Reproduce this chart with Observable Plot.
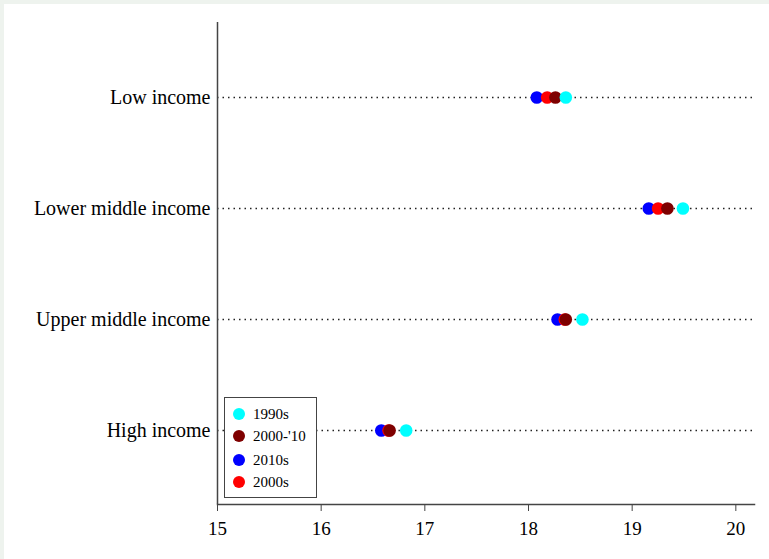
<!DOCTYPE html>
<html><head><meta charset="utf-8">
<script src="https://cdn.jsdelivr.net/npm/d3@7"></script>
<script src="https://cdn.jsdelivr.net/npm/@observablehq/plot@0.6"></script>
<style>
body{margin:0;background:#eef3ee;width:769px;height:559px;overflow:hidden;position:relative;font-family:"Liberation Serif",serif}
#panel{position:absolute;left:4px;top:4px;right:0;bottom:0;background:#fff}
#chart{position:absolute;left:0;top:0}
#legend{position:absolute;left:224px;top:397px;width:93px;height:101px;border:1px solid #444;box-sizing:border-box;background:#fff;font-size:15px;color:#000}
#legend .row{position:absolute;left:0;height:20px;line-height:20px;white-space:nowrap}
#legend .sw{position:absolute;left:8px;top:4px;width:12px;height:12px;border-radius:50%}
#legend .lb{position:absolute;left:28px;top:0}
</style></head>
<body>
<div id="panel"></div>
<div id="chart"></div>
<div id="legend"></div>
<script>
// Categories (top to bottom)
const groups = ["Low income", "Lower middle income", "Upper middle income", "High income"];
// Series values, one per group
const v1990s  = [18.36, 19.49, 18.52, 16.82];
const v200010 = [18.26, 19.34, 18.36, 16.66];
const v2010s  = [18.08, 19.16, 18.28, 16.58];
const v2000s  = [18.18, 19.25, 18.35, 16.65];
// Series names (legend order) and colours
const seriesNames = ["1990s", "2000-'10", "2010s", "2000s"];
const seriesColors = ["#00ffff", "#7f0000", "#0000ff", "#ff0000"];
// Draw order (back to front)
const drawOrder = ["2010s", "2000s", "2000-'10", "1990s"];
const xTicks = [15, 16, 17, 18, 19, 20];

const valuesBySeries = {"1990s": v1990s, "2000-'10": v200010, "2010s": v2010s, "2000s": v2000s};
const data = drawOrder.flatMap(s => groups.map((g, i) => ({series: s, group: g, value: valuesBySeries[s][i]})));

const chart = Plot.plot({
  width: 769,
  height: 559,
  marginLeft: 217,
  marginRight: 15,
  marginTop: 22,
  marginBottom: 55,
  style: {background: "transparent", fontFamily: "'Liberation Serif', serif", color: "#000"},
  x: {domain: [15, 20.18], label: null},
  y: {domain: groups, padding: 0.67, label: null},
  color: {domain: seriesNames, range: seriesColors},
  marks: [
    Plot.ruleY(groups, {y: d => d, stroke: "#222", strokeDasharray: "1.5,4", strokeWidth: 1.3}),
    Plot.ruleX([15], {stroke: "#444", strokeWidth: 1.5}),
    Plot.frame({anchor: "bottom", stroke: "#444", strokeWidth: 1.5}),
    Plot.axisX({ticks: xTicks, tickSize: 7, tickPadding: 10, fontSize: 19, stroke: "#444", tickFormat: d => String(d), label: null}),
    Plot.axisY({tickSize: 0, tickPadding: 7, fontSize: 20, label: null}),
    Plot.dot(data, {x: "value", y: "group", fill: "series", r: 6.3, stroke: null})
  ]
});
document.getElementById("chart").appendChild(chart);

const legend = document.getElementById("legend");
const rowTops = [6, 28, 52, 74];
seriesNames.forEach((s, i) => {
  const row = document.createElement("div");
  row.className = "row";
  row.style.top = rowTops[i] + "px";
  row.innerHTML = `<span class="sw" style="background:${seriesColors[i]}"></span><span class="lb">${s}</span>`;
  legend.appendChild(row);
});
</script>
</body></html>
